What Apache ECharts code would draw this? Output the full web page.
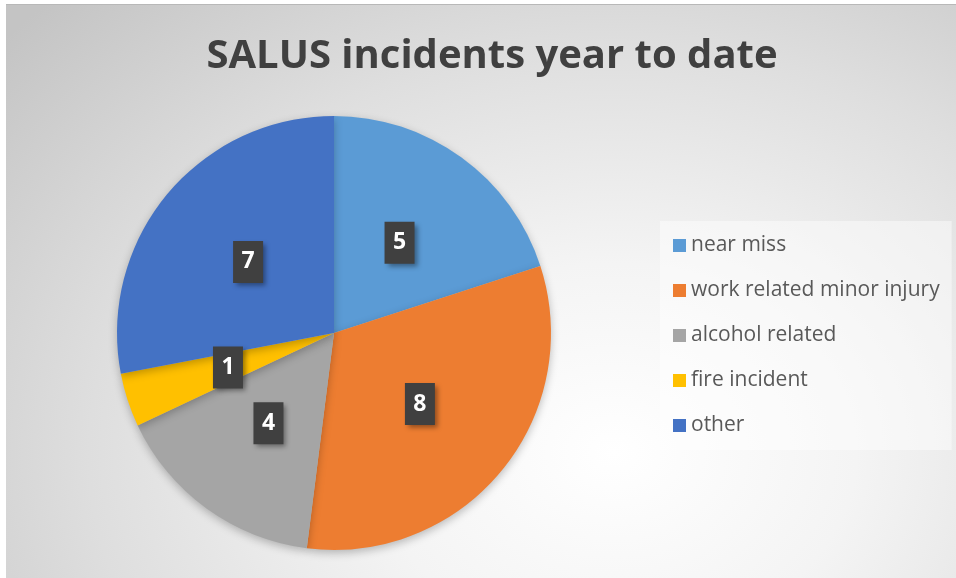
<!DOCTYPE html>
<html>
<head>
<meta charset="utf-8">
<script src="https://cdn.jsdelivr.net/npm/echarts@6/dist/echarts.min.js"></script>
<style>
  html, body { margin: 0; padding: 0; background: #fff; }
  #bg {
    position: absolute; left: 6px; top: 4px; width: 950px; height: 574px;
    background: radial-gradient(ellipse 85% 110% at 64% 78%, #ffffff 0%, #f4f4f4 30%, #dedede 65%, #c4c4c4 100%);
    border-top: 1px solid #b8b8b8;
  }
  #chart-container { position: absolute; left: 0; top: 0; width: 956px; height: 578px; }
</style>
</head>
<body>
<div id="bg"></div>
<div id="chart-container"></div>
<script>
var dom = document.getElementById("chart-container");
var myChart = echarts.init(dom, null, { renderer: "canvas" });

var chart_title = "SALUS incidents year to date";
var categories = ["near miss", "work related minor injury", "alcohol related", "fire incident", "other"];
var values = [5, 8, 4, 1, 7];
var colors = ["#5B9BD5", "#ED7D31", "#A5A5A5", "#FFC000", "#4472C4"];

var data = categories.map(function (name, i) {
  return { name: name, value: values[i], itemStyle: { color: colors[i] } };
});

var option = {
  backgroundColor: "transparent",
  animation: false,
  title: {
    text: chart_title,
    left: 487,
    textAlign: "center",
    top: 32,
    textStyle: {
      fontFamily: "Open Sans, sans-serif",
      fontSize: 40,
      fontWeight: "bold",
      color: "#404040",
    },
  },
  legend: {
    orient: "vertical",
    left: 660,
    top: 221,
    padding: [13, 12, 13, 13],
    backgroundColor: "rgba(255,255,255,0.45)",
    itemWidth: 13,
    itemHeight: 13,
    itemGap: 22,
    icon: "rect",
    textStyle: {
      fontFamily: "Open Sans, sans-serif",
      fontSize: 21,
      color: "#595959",
      padding: [0, 0, 0, 0],
      height: 23,
      lineHeight: 23,
    },
    data: categories,
  },
  series: [
    {
      type: "pie",
      center: [334, 333],
      radius: [0, 217],
      startAngle: 90,
      clockwise: true,
      silent: true,
      itemStyle: {
        shadowBlur: 8,
        shadowOffsetY: 3,
        shadowColor: "rgba(0,0,0,0.25)",
      },
      label: {
        show: true,
        position: "inside",
        formatter: "{c}",
        fontFamily: "Open Sans, sans-serif",
        fontSize: 23,
        fontWeight: "bold",
        color: "#ffffff",
        backgroundColor: "#404040",
        width: 20,
        height: 30,
        lineHeight: 30,
        align: "center",
        padding: [6, 5, 6, 5],
        shadowBlur: 5,
        shadowOffsetX: 3,
        shadowOffsetY: 3,
        shadowColor: "rgba(0,0,0,0.4)",
      },
      labelLine: { show: false },
      data: data,
    },
  ],
};

myChart.setOption(option);
window.addEventListener("resize", function () {
  myChart.resize();
});
</script>
</body>
</html>
